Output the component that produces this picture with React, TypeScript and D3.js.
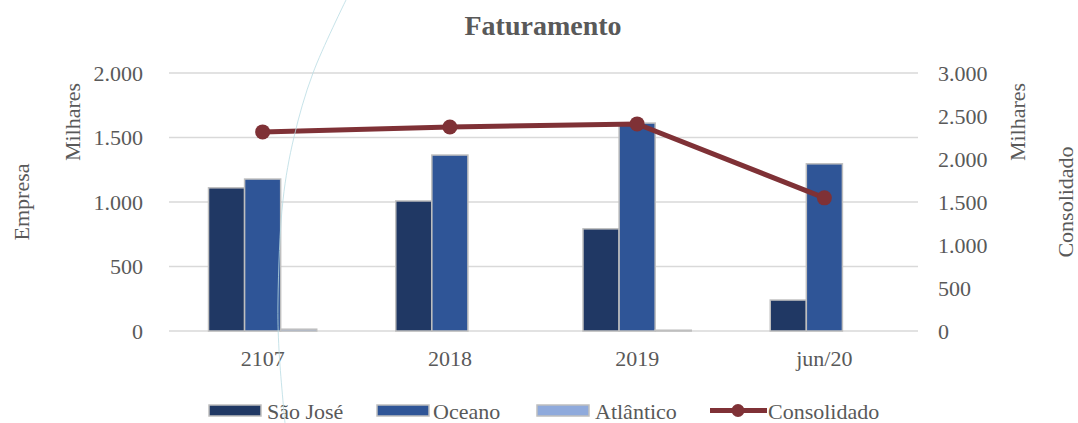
import React from "react";
import * as d3 from "d3";

const categories = ["2107", "2018", "2019", "jun/20"];
const saoJose = [1110, 1008, 792, 240];
const oceano = [1178, 1364, 1612, 1296];
const atlantico = [14, 0, 6, 0];
const consolidado = [2315, 2372, 2408, 1548];
const leftTicks = [0, 500, 1000, 1500, 2000];
const rightTicks = [0, 500, 1000, 1500, 2000, 2500, 3000];

const barSeries = [
  { name: "São José", values: saoJose, color: "#203864" },
  { name: "Oceano", values: oceano, color: "#2f5597" },
  { name: "Atlântico", values: atlantico, color: "#8faadc" },
];
const lineName = "Consolidado";
const lineColor = "#7f3136";

const W = 1078;
const H = 423;
const M = { left: 169, right: 160, top: 73, bottom: 92 };
const FONT = "'Liberation Serif', 'Times New Roman', serif";
const TXT = "#595959";

const fmt = (v: number) => d3.format(",")(v).replace(/,/g, ".");

export default function App() {
  const x = d3
    .scaleBand<string>()
    .domain(categories)
    .range([M.left, W - M.right])
    .padding(0);
  const yL = d3.scaleLinear().domain([0, 2000]).range([H - M.bottom, M.top]);
  const yR = d3.scaleLinear().domain([0, 3000]).range([H - M.bottom, M.top]);
  const groupW = x.bandwidth() * 0.578;
  const inner = d3
    .scaleBand<number>()
    .domain(barSeries.map((_, i) => i))
    .range([0, groupW])
    .padding(0);

  const line = d3
    .line<number>()
    .x((_, i) => (x(categories[i]) as number) + x.bandwidth() / 2)
    .y((d) => yR(d));

  const deco = d3.line().curve(d3.curveCatmullRom)([
    [346, 0],
    [313, 73],
    [294, 137],
    [283, 200],
    [278, 300],
    [279, 350],
    [285, 423],
  ]);

  const legendItems = [
    { x: 209, tx: 267, s: barSeries[0] },
    { x: 377, tx: 433, s: barSeries[1] },
    { x: 537, tx: 595, s: barSeries[2] },
  ];

  return (
    <svg
      width={W}
      height={H}
      style={{ position: "absolute", left: 0, top: 0, background: "#fff" }}
      fontFamily={FONT}
    >
      <rect width={W} height={H} fill="#fff" />
      {/* gridlines */}
      {leftTicks.map((t) => (
        <line
          key={t}
          x1={M.left}
          x2={W - M.right}
          y1={yL(t)}
          y2={yL(t)}
          stroke="#d9d9d9"
          strokeWidth={1.5}
        />
      ))}
      {/* left ticks */}
      {leftTicks.map((t) => (
        <text
          key={"l" + t}
          x={143}
          y={yL(t)}
          textAnchor="end"
          dominantBaseline="central"
          fontSize={22}
          fill={TXT}
        >
          {fmt(t)}
        </text>
      ))}
      {/* right ticks */}
      {rightTicks.map((t) => (
        <text
          key={"r" + t}
          x={938}
          y={yR(t)}
          textAnchor="start"
          dominantBaseline="central"
          fontSize={22}
          fill={TXT}
        >
          {fmt(t)}
        </text>
      ))}
      {/* bars */}
      {categories.map((c, ci) => {
        const x0 = (x(c) as number) + (x.bandwidth() - groupW) / 2;
        return barSeries.map((s, si) =>
          s.values[ci] > 0 ? (
            <rect
              key={c + si}
              x={x0 + (inner(si) as number)}
              y={yL(s.values[ci])}
              width={inner.bandwidth()}
              height={yL(0) - yL(s.values[ci])}
              fill={s.color}
              stroke="#bfbfbf"
              strokeWidth={1.5}
            />
          ) : null
        );
      })}
      {/* line */}
      <path d={line(consolidado) || ""} fill="none" stroke={lineColor} strokeWidth={5} />
      {consolidado.map((v, i) => (
        <circle
          key={i}
          cx={(x(categories[i]) as number) + x.bandwidth() / 2}
          cy={yR(v)}
          r={7.5}
          fill={lineColor}
        />
      ))}
      {/* x labels */}
      {categories.map((c) => (
        <text
          key={"x" + c}
          x={(x(c) as number) + x.bandwidth() / 2}
          y={358}
          textAnchor="middle"
          dominantBaseline="central"
          fontSize={22}
          fill={TXT}
        >
          {c}
        </text>
      ))}
      {/* title */}
      <text x={543} y={25} textAnchor="middle" dominantBaseline="central" fontSize={28} fontWeight="bold" fill={TXT}>
        Faturamento
      </text>
      {/* axis titles */}
      <text transform="translate(21,202) rotate(-90)" textAnchor="middle" dominantBaseline="central" fontSize={22} fill={TXT}>
        Empresa
      </text>
      <text transform="translate(72,122) rotate(-90)" textAnchor="middle" dominantBaseline="central" fontSize={22} fill={TXT}>
        Milhares
      </text>
      <text transform="translate(1017,122) rotate(-90)" textAnchor="middle" dominantBaseline="central" fontSize={22} fill={TXT}>
        Milhares
      </text>
      <text transform="translate(1065,202) rotate(-90)" textAnchor="middle" dominantBaseline="central" fontSize={22} fill={TXT}>
        Consolidado
      </text>
      {/* legend */}
      {legendItems.map((it) => (
        <g key={it.s.name}>
          <rect x={it.x} y={405} width={52} height={11} fill={it.s.color} stroke="#bfbfbf" strokeWidth={1.5} />
          <text x={it.tx} y={411} dominantBaseline="central" fontSize={22} fill={TXT}>
            {it.s.name}
          </text>
        </g>
      ))}
      <line x1={710} x2={767} y1={410.5} y2={410.5} stroke={lineColor} strokeWidth={5} />
      <circle cx={738} cy={410.5} r={6.5} fill={lineColor} />
      <text x={768} y={411} dominantBaseline="central" fontSize={22} fill={TXT}>
        {lineName}
      </text>
      {/* decorative background curve */}
      <path d={deco || ""} fill="none" stroke="#b9dce3" strokeWidth={1} opacity={0.8} />
    </svg>
  );
}
